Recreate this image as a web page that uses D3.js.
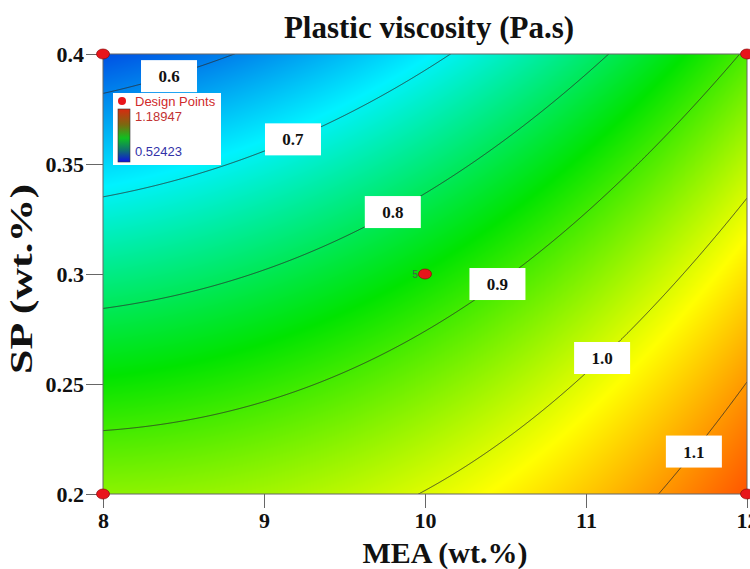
<!DOCTYPE html>
<html>
<head>
<meta charset="utf-8">
<script src="https://cdn.jsdelivr.net/npm/d3@7"></script>
<style>
  body { margin: 0; background: #fff; }
  svg { display: block; }
</style>
</head>
<body>
<svg id="chart" width="750" height="569"></svg>
<script>
// Factor ranges in actual units
const meaRange = [8, 12];
const spRange = [0.2, 0.4];

// Fitted quadratic model in coded factors (A = MEA, B = SP, both scaled to -1..1)
const modelTerms = ["Intercept", "A", "B", "AB", "A^2", "B^2"];
const modelCoefs = [0.860, 0.137, -0.158, 0.036, 0.047, -0.016];

// Colour key bounds
const colorKey = [0.52423, 1.18947];

// Contour levels and where each label sits along MEA
const contourLevels = [0.6, 0.7, 0.8, 0.9, 1.0, 1.1];
const contourLabels = ["0.6", "0.7", "0.8", "0.9", "1.0", "1.1"];
const labelMEA = [8.41, 9.18, 9.80, 10.45, 11.10, 11.67];

// Design points
const designMEA = [8, 12, 8, 12, 10];
const designSP = [0.4, 0.4, 0.2, 0.2, 0.3];
const designReps = [1, 1, 1, 1, 5];

// Axis ticks
const xTicks = [8, 9, 10, 11, 12];
const xTickLabels = ["8", "9", "10", "11", "12"];
const yTicks = [0.2, 0.25, 0.3, 0.35, 0.4];
const yTickLabels = ["0.2", "0.25", "0.3", "0.35", "0.4"];

(function draw() {
  const svg = d3.select("#chart");
  const pL = 103, pR = 747, pT = 54, pB = 494;
  const serif = "'Liberation Serif', 'Times New Roman', serif";
  const sans = "'Liberation Sans', Arial, sans-serif";

  const x = d3.scaleLinear().domain(meaRange).range([pL, pR]);
  const y = d3.scaleLinear().domain(spRange).range([pB, pT]);
  const codeA = d3.scaleLinear().domain(meaRange).range([-1, 1]);
  const codeB = d3.scaleLinear().domain(spRange).range([-1, 1]);

  const [c0, c1, c2, c3, c4, c5] = modelCoefs;
  function predict(mea, sp) {
    const A = codeA(mea), B = codeB(sp);
    return c0 + c1 * A + c2 * B + c3 * A * B + c4 * A * A + c5 * B * B;
  }
  // SP on the iso-line f = v for a given MEA (root of the quadratic in B)
  function isoSP(mea, v) {
    const A = codeA(mea);
    const e = c5, p = c2 + c3 * A, q = c0 + c1 * A + c4 * A * A - v;
    const D = p * p - 4 * e * q;
    if (D < 0) return NaN;
    const B = 2 * q / (-p + Math.sign(-p || 1) * Math.sqrt(D));
    return codeB.invert(B);
  }

  // Rainbow colour key
  const stops = d3.range(5).map(i => colorKey[0] + i * (colorKey[1] - colorKey[0]) / 4);
  const color = d3.scaleLinear()
    .domain(stops)
    .range(["#0024dc", "#00f2ff", "#00e400", "#ffff00", "#ff2000"])
    .clamp(true);

  // Filled surface rendered to a canvas, then placed as an image
  const W = pR - pL, H = pB - pT;
  const canvas = document.createElement("canvas");
  canvas.width = W; canvas.height = H;
  const ctx = canvas.getContext("2d");
  const img = ctx.createImageData(W, H);
  for (let j = 0; j < H; j++) {
    const sp = y.invert(pT + j + 0.5);
    for (let i = 0; i < W; i++) {
      const mea = x.invert(pL + i + 0.5);
      const c = d3.rgb(color(predict(mea, sp)));
      const k = 4 * (j * W + i);
      img.data[k] = c.r; img.data[k + 1] = c.g; img.data[k + 2] = c.b; img.data[k + 3] = 255;
    }
  }
  ctx.putImageData(img, 0, 0);

  const defs = svg.append("defs");
  defs.append("clipPath").attr("id", "plotClip")
    .append("rect").attr("x", pL).attr("y", pT).attr("width", W).attr("height", H);

  svg.append("image")
    .attr("x", pL).attr("y", pT).attr("width", W).attr("height", H)
    .attr("preserveAspectRatio", "none")
    .attr("href", canvas.toDataURL());

  // Contour lines
  const meaSamples = d3.range(0, 1001).map(i => meaRange[0] + (meaRange[1] - meaRange[0]) * i / 1000);
  const line = d3.line()
    .defined(d => !isNaN(d[1]) && d[1] > 0.17 && d[1] < 0.43)
    .x(d => x(d[0])).y(d => y(d[1]));
  svg.append("g").attr("clip-path", "url(#plotClip)")
    .selectAll("path").data(contourLevels).join("path")
    .attr("d", v => line(meaSamples.map(m => [m, isoSP(m, v)])))
    .attr("fill", "none").attr("stroke", "#2a2a2a").attr("stroke-width", 0.8);

  // Contour labels
  const labG = svg.append("g");
  contourLevels.forEach((v, i) => {
    const cx = x(labelMEA[i]), cy = y(isoSP(labelMEA[i], v));
    labG.append("rect").attr("x", cx - 28).attr("y", cy - 16).attr("width", 56).attr("height", 32)
      .attr("fill", "#fff");
    labG.append("text").attr("x", cx).attr("y", cy + 6)
      .attr("text-anchor", "middle").attr("font-family", serif).attr("font-weight", "bold")
      .attr("font-size", 17).attr("fill", "#111").text(contourLabels[i]);
  });

  // Plot frame
  svg.append("rect").attr("x", pL).attr("y", pT).attr("width", W).attr("height", H)
    .attr("fill", "none").attr("stroke", "#666").attr("stroke-width", 1);

  // Axes
  const xAxis = svg.append("g").attr("transform", `translate(0,${pB})`)
    .call(d3.axisBottom(x).tickValues(xTicks).tickFormat((d, i) => xTickLabels[i]).tickSize(14).tickPadding(4));
  const yAxis = svg.append("g").attr("transform", `translate(${pL},0)`)
    .call(d3.axisLeft(y).tickValues(yTicks).tickFormat((d, i) => yTickLabels[i]).tickSize(17).tickPadding(2));
  [xAxis, yAxis].forEach(g => {
    g.select(".domain").remove();
    g.selectAll(".tick line").attr("stroke", "#666");
    g.selectAll(".tick text").attr("font-family", serif).attr("font-weight", "bold")
      .attr("font-size", 22).attr("fill", "#111");
  });

  // Design points
  const pts = svg.append("g");
  designMEA.forEach((m, i) => {
    pts.append("ellipse").attr("cx", x(m)).attr("cy", y(designSP[i])).attr("rx", 6.5).attr("ry", 5)
      .attr("fill", "#e8151b").attr("stroke", "#8a0c0c").attr("stroke-width", 0.7);
    if (designReps[i] > 1) {
      pts.append("text").attr("x", x(m) - 7).attr("y", y(designSP[i]) + 4)
        .attr("text-anchor", "end").attr("font-family", sans).attr("font-size", 10)
        .attr("fill", "#4a5a4a").text(designReps[i]);
    }
  });

  // Legend
  const lg = svg.append("g");
  lg.append("rect").attr("x", 113).attr("y", 93).attr("width", 108).attr("height", 72).attr("fill", "#fff");
  lg.append("circle").attr("cx", 122).attr("cy", 101).attr("r", 4).attr("fill", "#e8151b");
  lg.append("text").attr("x", 135).attr("y", 105.5).attr("font-family", sans).attr("font-size", 13)
    .attr("fill", "#d02a2a").text("Design Points");
  const grad = defs.append("linearGradient").attr("id", "keyGrad")
    .attr("x1", 0).attr("y1", 0).attr("x2", 0).attr("y2", 1);
  [["0%", "#d82a10"], ["30%", "#7a6a10"], ["55%", "#10c020"], ["78%", "#107070"], ["100%", "#1010e0"]]
    .forEach(([o, c]) => grad.append("stop").attr("offset", o).attr("stop-color", c));
  lg.append("rect").attr("x", 118).attr("y", 109).attr("width", 12).attr("height", 53)
    .attr("fill", "url(#keyGrad)").attr("stroke", "#333").attr("stroke-width", 0.6);
  lg.append("text").attr("x", 135).attr("y", 121).attr("font-family", sans).attr("font-size", 13)
    .attr("fill", "#c23232").text(colorKey[1].toFixed(5));
  lg.append("text").attr("x", 135).attr("y", 156).attr("font-family", sans).attr("font-size", 13)
    .attr("fill", "#3232a8").text(colorKey[0].toFixed(5));

  // Titles
  svg.append("text").attr("x", 429).attr("y", 38).attr("text-anchor", "middle")
    .attr("font-family", serif).attr("font-weight", "bold").attr("font-size", 31).attr("fill", "#111")
    .text("Plastic viscosity (Pa.s)");
  svg.append("text").attr("x", 445).attr("y", 563).attr("text-anchor", "middle")
    .attr("font-family", serif).attr("font-weight", "bold").attr("font-size", 30).attr("fill", "#111")
    .text("MEA (wt.%)");
  svg.append("text").attr("transform", "translate(32,279) rotate(-90)").attr("text-anchor", "middle")
    .attr("font-family", serif).attr("font-weight", "bold").attr("font-size", 32).attr("fill", "#111")
    .attr("textLength", 190).attr("lengthAdjust", "spacingAndGlyphs")
    .text("SP (wt.%)");
})();
</script>
</body>
</html>
